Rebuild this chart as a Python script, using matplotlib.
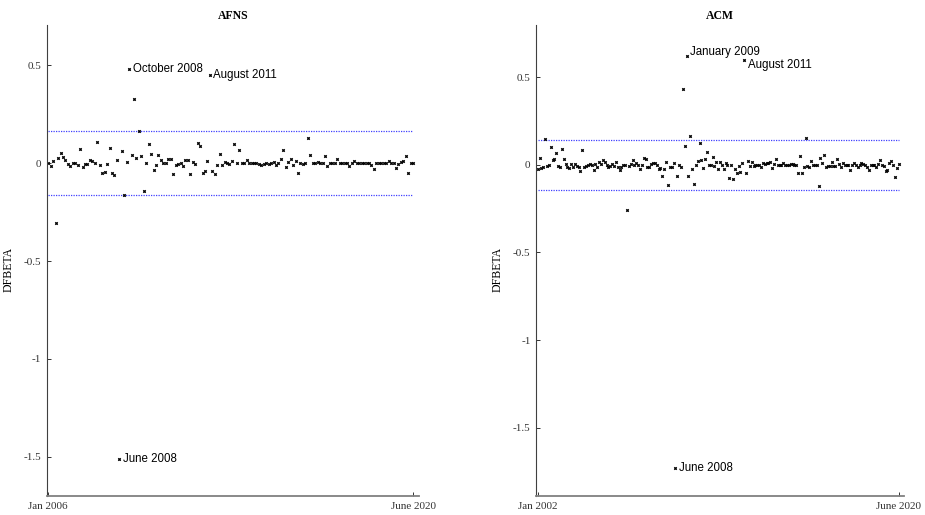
import numpy as np
import matplotlib.pyplot as plt

# DFBETA values, one per month
afns = [0.000, -0.014, 0.010, -0.307, 0.027, 0.053, 0.029, 0.015, -0.005, -0.015,
        0.003, 0.000, -0.010, 0.073, -0.020, -0.005, -0.003, 0.014, 0.009, 0.003,
        0.106, -0.012, -0.048, -0.044, -0.005, 0.077, -0.051, -0.060, 0.014, -1.510,
        0.061, -0.165, 0.007, 0.480, 0.041, 0.326, 0.026, 0.165, 0.034, -0.140,
        0.000, 0.097, 0.049, -0.036, -0.012, 0.041, 0.014, 0.002, 0.003, 0.019,
        0.020, -0.055, -0.012, -0.003, 0.003, -0.015, 0.017, 0.017, -0.053, 0.007,
        -0.003, 0.102, 0.090, -0.048, -0.041, 0.010, 0.450, -0.041, -0.058, -0.007,
        0.048, -0.010, 0.005, 0.002, -0.003, 0.010, 0.099, 0.000, 0.065, 0.003,
        0.003, 0.017, 0.000, 0.003, 0.000, 0.003, -0.002, -0.007, -0.003, 0.000,
        -0.002, 0.003, 0.005, -0.010, 0.003, 0.020, 0.068, -0.020, 0.005, 0.020,
        -0.007, 0.010, -0.051, 0.003, -0.003, 0.000, 0.126, 0.044, 0.003, 0.003,
        0.007, 0.003, 0.000, 0.036, -0.017, 0.000, 0.000, 0.000, 0.020, 0.003,
        0.000, 0.000, 0.003, -0.014, 0.003, 0.010, 0.000, 0.000, 0.003, 0.003,
        0.003, 0.003, -0.010, -0.031, 0.003, 0.003, 0.003, 0.003, 0.003, 0.010,
        0.000, 0.000, -0.024, -0.003, 0.007, 0.010, 0.034, -0.051, 0.003, 0.003]

acm = [-0.025, 0.040, -0.019, -0.011, 0.147, -0.008, 0.002, 0.101, 0.027, 0.034,
       0.069, -0.004, -0.011, 0.090, 0.031, 0.006, -0.011, -0.019, 0.004, -0.013,
       0.006, -0.004, -0.011, -0.034, 0.082, -0.013, -0.004, 0.000, 0.004, -0.002,
       -0.027, 0.004, -0.011, 0.015, 0.004, 0.025, 0.015, 0.002, -0.013, -0.004,
       0.004, -0.006, 0.015, -0.010, -0.031, -0.010, 0.000, 0.000, -0.256, -0.004,
       0.006, 0.029, 0.002, 0.011, 0.002, -0.023, 0.000, 0.038, 0.036, -0.015,
       -0.010, 0.004, 0.008, 0.013,
       0.000, -0.021, -0.017, -0.063, -0.023, 0.015, -0.115, -0.015, -0.015, 0.011,
       -1.730, -0.061, 0.000, -0.010, 0.435, 0.105, 0.620, -0.063, 0.162, -0.023,
       -0.111, 0.000, 0.023, 0.124, 0.029, -0.019, 0.032, 0.076, 0.000, 0.002,
       0.044, -0.008, 0.019, -0.023, 0.019, -0.002, -0.025, 0.013, 0.000, -0.073,
       0.000, -0.080, -0.025, -0.048, -0.008, -0.038, 0.010, 0.600, -0.046, 0.023,
       -0.004, 0.019, -0.008, 0.000, 0.000, 0.000, -0.011, 0.008, 0.004, 0.008,
       0.008, 0.015, -0.019, 0.004, 0.034,
       -0.002, -0.002, -0.002, 0.008, 0.002, -0.002, -0.002, 0.004, 0.004, -0.002,
       0.000, -0.048, 0.053, -0.044, -0.015, 0.151, -0.006, -0.010, 0.023, 0.000,
       0.000, 0.000, -0.120, 0.042, 0.008, 0.057, -0.013, -0.006, -0.004, 0.017,
       -0.004, -0.004, 0.031, 0.004, -0.015, 0.008, 0.000, 0.002, -0.002, -0.027,
       -0.002, 0.008, 0.002, -0.013, 0.000, 0.010, 0.006, -0.002, -0.015, -0.031,
       0.002, 0.002, 0.002, -0.011, 0.004, 0.027, -0.002, -0.006, -0.036, -0.027,
       0.008, 0.021, 0.000, -0.067, -0.017, 0.004]

afns_bound = 0.165
acm_bound = 0.143

afns_ticklabels = ["Jan 2006", "June 2020"]
acm_ticklabels = ["Jan 2002", "June 2020"]

# highlighted months: (month name, offset of text in points)
afns_labels = {"June 2008": (2.5, 0), "October 2008": (2.5, 0), "August 2011": (2.5, 0)}
acm_labels = {"June 2008": (2.5, 0), "January 2009": (2.8, 3), "August 2011": (2.8, -3.5)}
afns_label_idx = [29, 33, 66]
acm_label_idx = [74, 80, 111]

serif = "Liberation Serif"
sans = "Liberation Sans"

fig = plt.figure(figsize=(9.25, 5.15), dpi=100)
ax1 = fig.add_axes([0.0505, 0.037, 0.403, 0.915])
ax2 = fig.add_axes([0.5795, 0.037, 0.398, 0.915])


#function to draw one panel
def panel(ax, vals, bound, title, ticklabels, labels, label_idx, ylim, yticks, xpad):
    vals = np.array(vals)
    x = np.arange(len(vals))
    ax.plot([x[0], x[-1]], [bound, bound], color=(0.25, 0.25, 1.0), ls=(0, (1, 1)), lw=0.9)
    ax.plot([x[0], x[-1]], [-bound, -bound], color=(0.25, 0.25, 1.0), ls=(0, (1, 1)), lw=0.9)
    ax.plot(x, vals, "x", color="black", ms=1.8, mew=0.9)
    for (name, off), i in zip(labels.items(), label_idx):
        ax.annotate(name, (x[i], vals[i]), xytext=off, textcoords="offset points",
                    va="center", ha="left", fontsize=8.3, family=sans)
    ax.set_xlim(xpad[0], len(vals) - 1 + xpad[1])
    ax.set_ylim(ylim)
    ax.set_xticks([x[0], x[-1]])
    ax.set_xticklabels(ticklabels)
    ax.set_yticks(yticks)
    ax.set_yticklabels([f"{t:g}" for t in yticks])
    for lab in ax.get_xticklabels() + ax.get_yticklabels():
        lab.set_family(serif)
        lab.set_fontsize(8)
    ax.tick_params(direction="in", length=3, width=0.7, colors="#333333", pad=4)
    ax.spines["top"].set_visible(False)
    ax.spines["right"].set_visible(False)
    ax.spines["left"].set_color("#404040")
    ax.spines["left"].set_linewidth(0.8)
    ax.spines["bottom"].set_color("#808080")
    ax.spines["bottom"].set_linewidth(1.3)
    ax.set_title(title, family=serif, fontweight="bold", fontsize=8.5, pad=4)
    ax.set_ylabel("DFBETA", family=serif, fontsize=8.5)
    ax.yaxis.set_label_coords(-0.087, 0.48)


panel(ax1, afns, afns_bound, "AFNS", afns_ticklabels, afns_labels, afns_label_idx,
      (-1.7, 0.707), [-1.5, -1, -0.5, 0, 0.5], (-0.65, 2.6))
panel(ax2, acm, acm_bound, "ACM", acm_ticklabels, acm_labels, acm_label_idx,
      (-1.89, 0.80), [-1.5, -1, -0.5, 0, 0.5], (-0.9, 3.0))

plt.savefig("out.png", dpi=100)
